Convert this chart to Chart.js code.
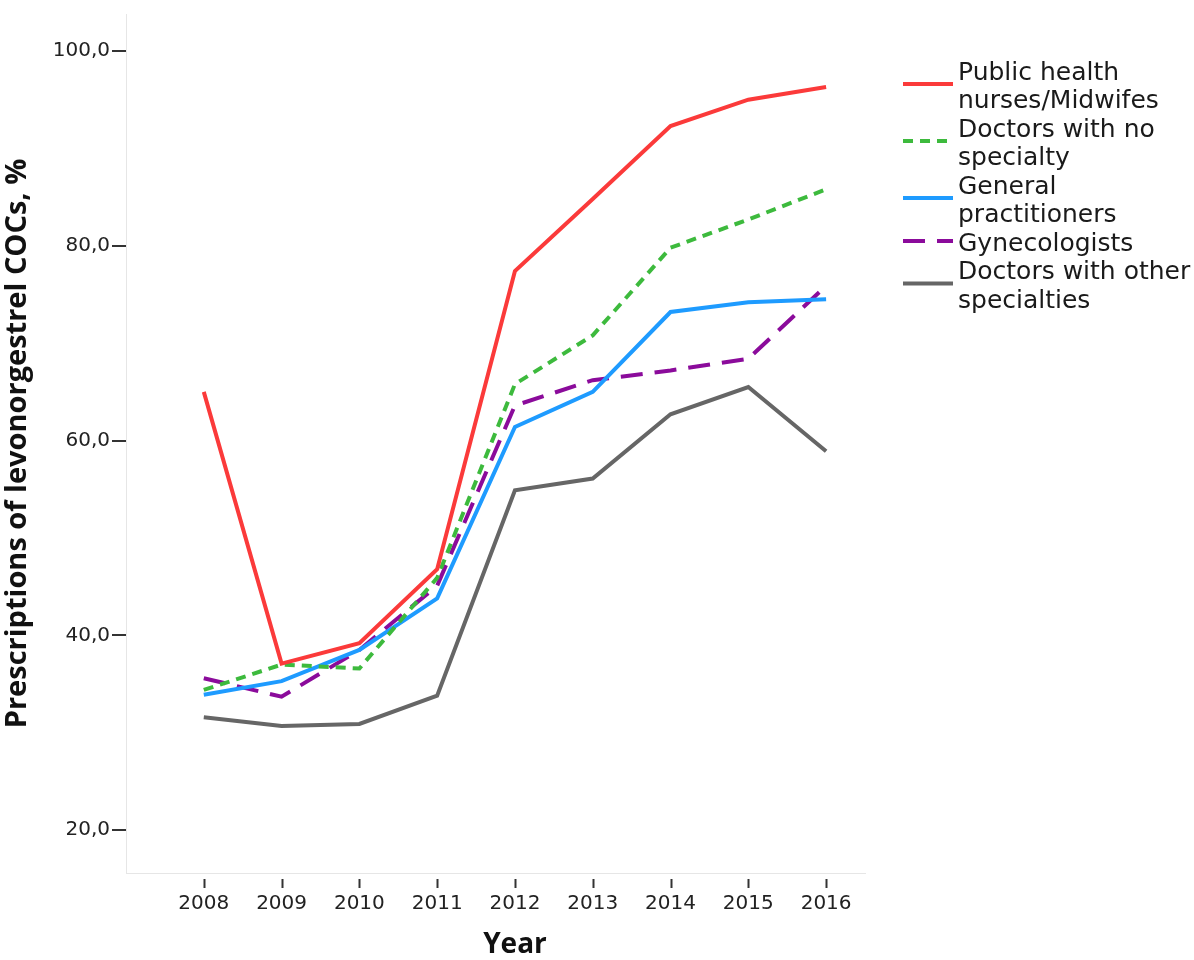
<!DOCTYPE html>
<html>
<head>
<meta charset="utf-8">
<script src="https://cdn.jsdelivr.net/npm/chart.js@4/dist/chart.umd.min.js"></script>
<style>
  body { margin: 0; background: #fff; }
  #wrap { width: 1194px; height: 960px; position: relative; }
</style>
</head>
<body>
<div id="wrap"><canvas id="cocChart"></canvas></div>
<script>
// share of levonorgestrel COC prescriptions by prescriber group, 2008-2016
const years = [2008, 2009, 2010, 2011, 2012, 2013, 2014, 2015, 2016];
const yTicks = [20, 40, 60, 80, 100];

const nurses      = [65.0, 37.1, 39.2, 46.8, 77.4, 84.8, 92.3, 95.0, 96.3];
const noSpecialty = [34.4, 37.0, 36.6, 45.9, 65.8, 70.8, 79.8, 82.7, 85.8];
const generalPrac = [33.9, 35.3, 38.5, 43.8, 61.4, 65.0, 73.2, 74.2, 74.5];
const gynecology  = [35.6, 33.7, 38.5, 45.1, 63.6, 66.2, 67.2, 68.4, 75.9];
const otherSpec   = [31.6, 30.7, 30.9, 33.8, 54.9, 56.1, 62.7, 65.5, 58.9];

const legendText = [
  ["Public health", "nurses/Midwifes"],
  ["Doctors with no", "specialty"],
  ["General", "practitioners"],
  ["Gynecologists"],
  ["Doctors with other", "specialties"]
];

function points(values) {
  return values.map((v, i) => ({ x: years[i], y: v }));
}

function series(idx, values, color, dash) {
  return {
    label: legendText[idx].join(" "),
    data: points(values),
    borderColor: color,
    backgroundColor: color,
    borderWidth: 4,
    borderDash: dash,
    pointRadius: 0,
    tension: 0,
    fill: false
  };
}

// legend, x tick marks and x title drawn by hand
const extras = {
  id: "extras",
  afterDraw(chart) {
    const ctx = chart.ctx;
    const xs = chart.scales.x;
    ctx.save();

    ctx.strokeStyle = "#333";
    ctx.lineWidth = 2;
    years.forEach(y => {
      const px = Math.round(xs.getPixelForValue(y)) + 0.5;
      ctx.beginPath();
      ctx.moveTo(px, chart.chartArea.bottom + 6);
      ctx.lineTo(px, chart.chartArea.bottom + 15);
      ctx.stroke();
    });

    const mid = (xs.getPixelForValue(years[0]) + xs.getPixelForValue(years[years.length - 1])) / 2;
    ctx.fillStyle = "#111";
    ctx.font = "bold 28px 'Open Sans'";
    ctx.textAlign = "center";
    ctx.textBaseline = "middle";
    ctx.fillText("Year", mid, 945);

    const step = 28.5;
    let lineY = 73;
    ctx.font = "25px 'DejaVu Sans'";
    ctx.textAlign = "left";
    chart.data.datasets.forEach((ds, i) => {
      const lines = legendText[i];
      const swY = lineY + (lines.length - 1) * 14 - 3;
      ctx.strokeStyle = ds.borderColor;
      ctx.lineWidth = 4;
      ctx.setLineDash(ds.borderDash || []);
      ctx.beginPath();
      ctx.moveTo(903, swY);
      ctx.lineTo(953, swY);
      ctx.stroke();
      ctx.setLineDash([]);
      ctx.fillStyle = "#1a1a1a";
      lines.forEach(t => {
        ctx.fillText(t, 958, lineY);
        lineY += step;
      });
    });
    ctx.restore();
  }
};

new Chart(document.getElementById("cocChart"), {
  type: "line",
  data: {
    datasets: [
      series(0, nurses, "#fb3a3a", []),
      series(1, noSpecialty, "#3dba3d", [10, 7]),
      series(2, generalPrac, "#1e9bff", []),
      series(3, gynecology, "#8b0b9b", [22, 12]),
      series(4, otherSpec, "#666666", [])
    ]
  },
  options: {
    responsive: true,
    maintainAspectRatio: false,
    animation: false,
    layout: { padding: { left: 0, top: 10, right: 329, bottom: 0 } },
    plugins: { legend: { display: false }, tooltip: { enabled: false } },
    scales: {
      x: {
        type: "linear",
        min: 2007,
        max: 2016.5,
        afterBuildTicks: s => { s.ticks = years.map(v => ({ value: v })); },
        afterFit: s => { s.height = 87; },
        grid: { display: false, drawTicks: false },
        border: { color: "#e6e6e6", width: 1 },
        ticks: {
          padding: 19,
          color: "#222",
          font: { family: "DejaVu Sans", size: 20 },
          callback: v => String(v)
        }
      },
      y: {
        min: 15.6,
        max: 103.8,
        afterBuildTicks: s => { s.ticks = yTicks.map(v => ({ value: v })); },
        afterFit: s => { s.width = 126; },
        grid: { drawOnChartArea: false, drawTicks: true, tickLength: 14, color: "#333", lineWidth: 2 },
        border: { color: "#e6e6e6", width: 1 },
        ticks: {
          padding: 2,
          color: "#222",
          font: { family: "DejaVu Sans", size: 20 },
          callback: v => v.toFixed(1).replace(".", ",")
        },
        title: {
          display: true,
          text: "Prescriptions of levonorgestrel COCs, %",
          color: "#111",
          font: { family: "Open Sans", size: 29, weight: "bold" },
          padding: { top: 0, bottom: 0 }
        }
      }
    }
  },
  plugins: [extras]
});
</script>
</body>
</html>
